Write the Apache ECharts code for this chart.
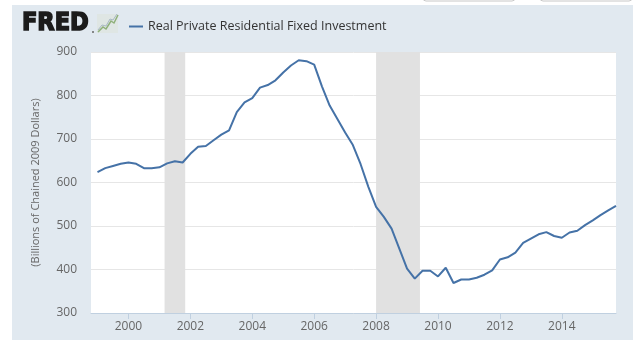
<!DOCTYPE html>
<html><head><meta charset="utf-8">
<script src="https://cdn.jsdelivr.net/npm/echarts@6/dist/echarts.min.js"></script>
<style>html,body{margin:0;padding:0;background:#fff;}#c{width:640px;height:342px;}</style>
</head><body><div id="c"></div>
<script>
// Quarterly data, 1999Q1 .. 2015Q4
var startYear = 1999;
var values = [
  624, 633, 638, 643,
  646, 643, 633, 633,
  635, 644, 649, 646,
  666, 682, 684, 697,
  710, 720, 762, 784,
  794, 818, 824, 835,
  853, 869, 881, 879,
  871, 821, 777, 746,
  715, 686, 642, 590,
  544, 521, 494, 448,
  402, 379, 397, 397,
  384, 404, 369, 377,
  377, 381, 388, 398,
  423, 428, 439, 461,
  471, 481, 486, 477,
  473, 485, 489, 502,
  513, 525, 536, 546
];
// recession periods as [year, month] start / end
var recessions = [[[2001, 3], [2001, 11]], [[2008, 1], [2009, 6]]];
var xTickLabels = ['2000', '2002', '2004', '2006', '2008', '2010', '2012', '2014'];
var yTicks = [300, 400, 500, 600, 700, 800, 900];
var seriesName = 'Real Private Residential Fixed Investment';
var yAxisName = '(Billions of Chained 2009 Dollars)';

function ym(y, m) { return y + (m - 1) / 12; }
var data = values.map(function (v, i) {
  return [ym(startYear + Math.floor(i / 4), (i % 4) * 3 + 1), v];
});
var tickVals = xTickLabels.map(function (s) { return +s; });

var chart = echarts.init(document.getElementById('c'), null, {renderer: 'canvas'});
var font = '"Open Sans", "Noto Sans", sans-serif';
chart.setOption({
  backgroundColor: '#fff',
  animation: false,
  textStyle: {fontFamily: font},
  graphic: [
    {type: 'rect', z: -10, shape: {x: 12, y: 5, width: 621, height: 335}, style: {fill: '#e1e9f0'}},
    {type: 'rect', shape: {x: 423, y: -20, width: 92, height: 21, r: 3}, style: {fill: '#fff', stroke: '#c8c8c8', lineWidth: 1}},
    {type: 'rect', shape: {x: 540, y: -20, width: 92, height: 21, r: 3}, style: {fill: '#fff', stroke: '#c8c8c8', lineWidth: 1}},
    {type: 'text', x: 22, y: 11, scaleX: 0.9, style: {text: 'FRED', fill: '#1b1b1b', stroke: '#1b1b1b', lineWidth: 1.6, font: 'bold 25px "DejaVu Sans", "Liberation Sans", sans-serif'}},
    {type: 'circle', shape: {cx: 93, cy: 32, r: 1}, style: {fill: '#666'}},
    {type: 'rect', shape: {x: 97, y: 14, width: 21, height: 19}, style: {fill: '#dfe6e4'}},
    {type: 'polyline', shape: {points: [[98, 32], [103, 27], [106, 29], [111, 21], [114, 23], [118, 15]]}, style: {stroke: '#8fb07a', lineWidth: 1.5, fill: null}},
    {type: 'polyline', shape: {points: [[98, 30], [102, 25], [106, 26], [110, 19], [113, 20], [117, 14]]}, style: {stroke: '#a9b9c4', lineWidth: 1, fill: null}}
  ],
  legend: {
    left: 124, top: 15, itemWidth: 14, itemHeight: 2, icon: 'rect', itemGap: 5,
    textStyle: {fontFamily: font, fontSize: 12.5, color: '#333'},
    data: [seriesName]
  },
  grid: {left: 91, top: 52, right: 24, bottom: 29, show: true, backgroundColor: '#fff', borderWidth: 0},
  xAxis: {
    type: 'value',
    min: 1998.79,
    max: ym(2015, 10),
    axisLine: {show: true, lineStyle: {color: '#c0d0e0'}},
    axisTick: {show: true, customValues: tickVals, length: 6, lineStyle: {color: '#c0d0e0'}},
    axisLabel: {
      customValues: tickVals, color: '#666', fontSize: 12, fontFamily: font, margin: 8,
      formatter: function (v) { var i = tickVals.indexOf(Math.round(v)); return i >= 0 ? xTickLabels[i] : ''; }
    },
    splitLine: {show: false}
  },
  yAxis: {
    type: 'value', min: yTicks[0], max: yTicks[yTicks.length - 1], interval: 100,
    name: yAxisName, nameLocation: 'middle', nameGap: 50, nameRotate: 90,
    nameTextStyle: {color: '#666', fontSize: 11, fontFamily: font},
    axisLine: {show: false}, axisTick: {show: false},
    axisLabel: {color: '#666', fontSize: 12, fontFamily: font, margin: 14},
    splitLine: {lineStyle: {color: '#e6e6e6', width: 1}}
  },
  series: [{
    name: seriesName, type: 'line', data: data, showSymbol: false, symbol: 'none',
    lineStyle: {color: '#4572a7', width: 2}, itemStyle: {color: '#4572a7'},
    markArea: {
      silent: true,
      itemStyle: {color: '#e1e1e1'},
      data: recessions.map(function (r) { return [{xAxis: ym(r[0][0], r[0][1])}, {xAxis: ym(r[1][0], r[1][1])}]; })
    }
  }]
});
</script></body></html>
